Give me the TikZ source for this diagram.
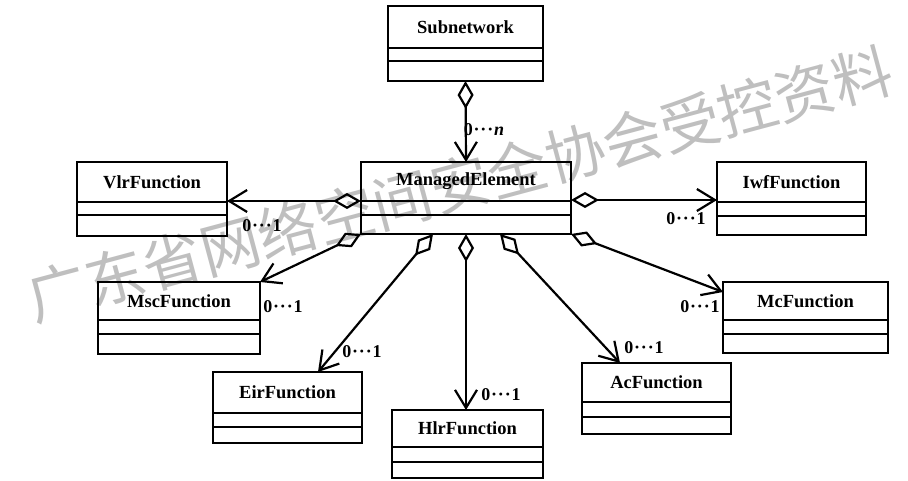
\documentclass[tikz,border=0pt]{standalone}
\usepackage{fontspec}
\setmainfont{Liberation Serif}
\newfontfamily\cjkwm{Noto Sans CJK SC}
\usetikzlibrary{arrows.meta}
\tikzset{
  clsbox/.style={draw, line width=2.6pt, inner sep=0pt, outer sep=0pt},
  clsline/.style={line width=2.6pt},
  clsname/.style={font=\bfseries\fontsize{18.5}{18.5}\selectfont, inner sep=0pt},
  mult/.style={font=\bfseries\fontsize{18}{18}\selectfont, inner sep=0pt},
  conn/.style={line width=2.2pt, line join=miter,
    arrows={Diamond[open,length=28pt,width=16pt]-Straight Barb[length=18pt,width=22pt]}},
  wmark/.style={font=\cjkwm\fontsize{59.5}{59.5}\selectfont, text=black!25, inner sep=0pt}
}
\newcommand{\umlclass}[8]{%
  \node[clsbox, minimum width=#5pt, minimum height=#6pt] (#1) at (#3,#4) {};
  \draw[clsline] ([yshift=-#7pt]#1.north west) -- ([yshift=-#7pt]#1.north east);
  \draw[clsline] ([yshift=-#8pt]#1.north west) -- ([yshift=-#8pt]#1.north east);
  \node[clsname] (#1-name) at ([yshift={-0.5*#7pt}]#1.north) {#2};
}
\newcommand{\dotsmult}{\kern0.8pt·\kern0.8pt·\kern0.8pt·\kern0.8pt}
\begin{document}
\begin{tikzpicture}[x=1pt,y=-1pt]
\useasboundingbox (0,0) rectangle (908,481);
% watermark
\node[wmark, rotate=15] (wm) at (460,184) {广东省网络空间安全协会受控资料};
% classes
\umlclass{sub}{Subnetwork}{465.5}{43.5}{155}{75}{42}{55}
\umlclass{me}{ManagedElement}{466}{198}{210}{72}{39}{53}
\umlclass{vlr}{VlrFunction}{152}{199}{150}{74}{40}{53}
\umlclass{iwf}{IwfFunction}{791.5}{198.5}{149}{73}{40}{54}
\umlclass{msc}{MscFunction}{179}{318}{162}{72}{38}{52}
\umlclass{eir}{EirFunction}{287.5}{407.5}{149}{71}{41}{55}
\umlclass{hlr}{HlrFunction}{467.5}{444}{151}{68}{37}{52}
\umlclass{ac}{AcFunction}{656.5}{398.5}{149}{71}{39}{54}
\umlclass{mc}{McFunction}{805.5}{317.5}{165}{71}{38}{52}
% connectors
\draw[conn] (sub.south) -- (me.north);
\draw[conn] ([yshift=-3pt]me.west) -- ([yshift=-2pt]vlr.east);
\draw[conn] ([yshift=-2pt]me.east) -- ([yshift=-1.5pt]iwf.west);
\draw[conn] (me.south west) -- (msc.north east);
\draw[conn] ([xshift=-33pt]me.south) -- ([xshift=30.5pt]eir.north);
\draw[conn] (me.south) -- ([xshift=-1.5pt]hlr.north);
\draw[conn] ([xshift=34pt]me.south) -- ([xshift=-36.5pt]ac.north);
\draw[conn] (me.south east) -- ([yshift=-10pt]mc.north west);
% multiplicities
\node[mult] (m0) at (484,130) {0\dotsmult\textit{n}};
\node[mult] (m1) at (262,226) {0\dotsmult 1};
\node[mult] (m2) at (686,219) {0\dotsmult 1};
\node[mult] (m3) at (283,307) {0\dotsmult 1};
\node[mult] (m4) at (362,352) {0\dotsmult 1};
\node[mult] (m5) at (501,395) {0\dotsmult 1};
\node[mult] (m6) at (644,348) {0\dotsmult 1};
\node[mult] (m7) at (700,307) {0\dotsmult 1};
\end{tikzpicture}
\end{document}
